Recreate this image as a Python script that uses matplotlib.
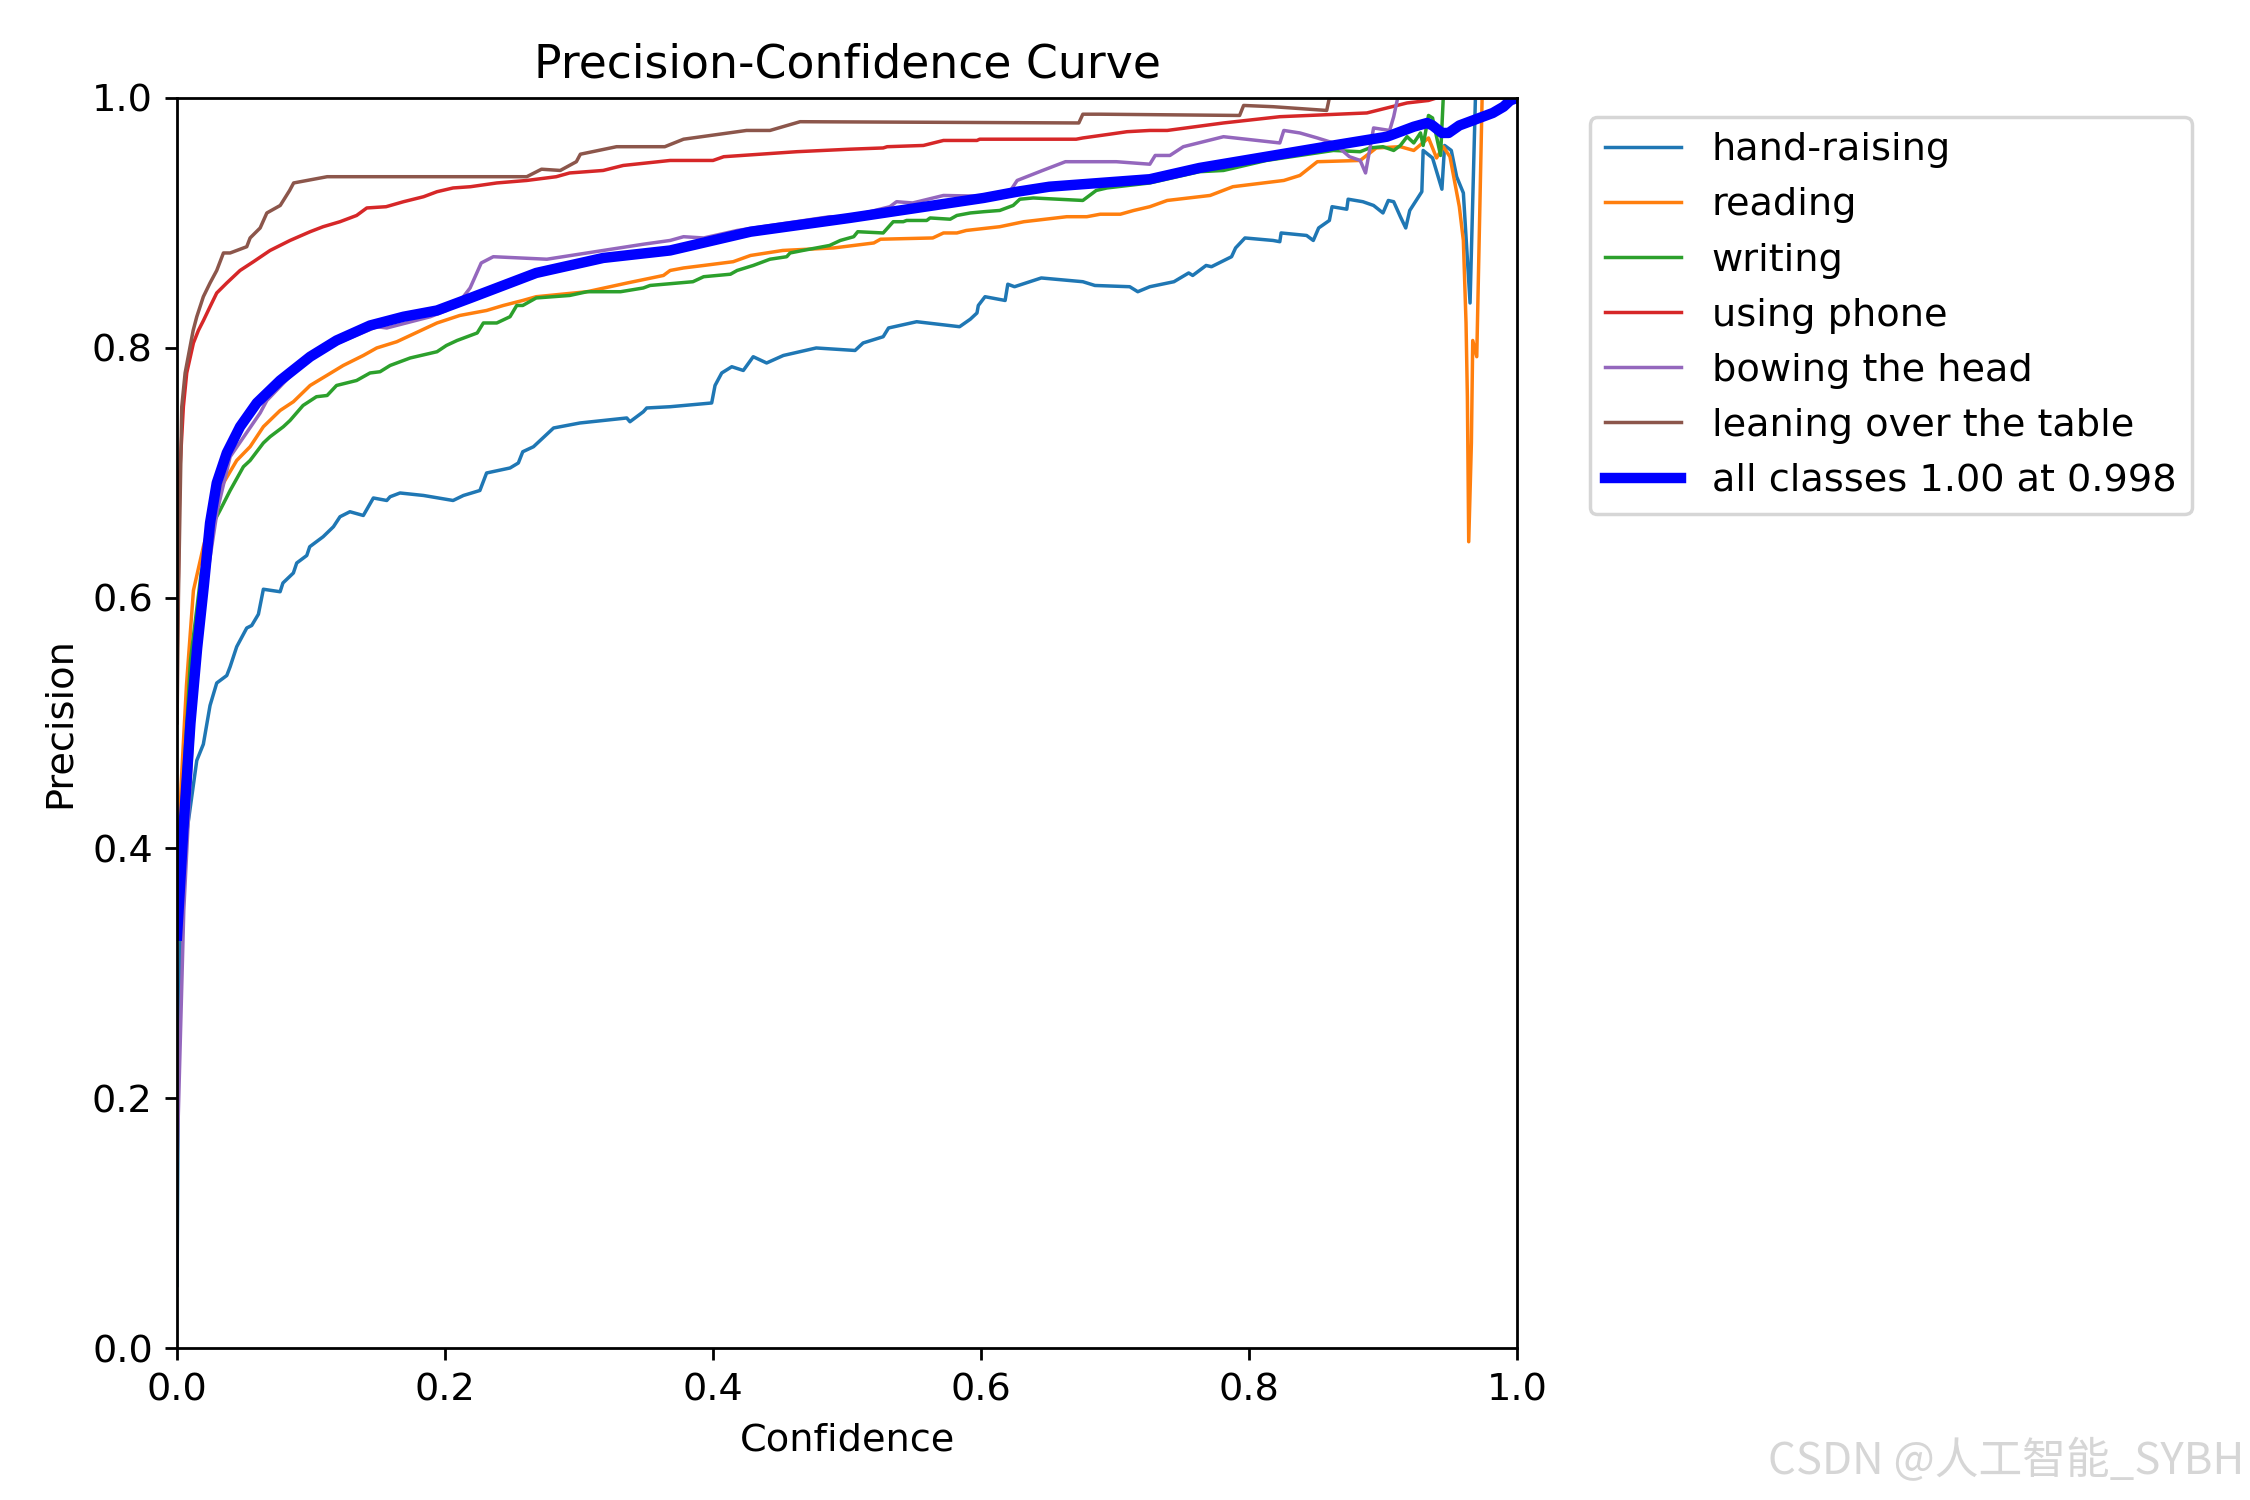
import matplotlib
matplotlib.use("Agg")
import matplotlib.pyplot as plt

plt.rcParams["font.size"] = 11

class_names = ["hand-raising", "reading", "writing", "using phone",
               "bowing the head", "leaning over the table"]
all_label = "all classes 1.00 at 0.998"

hand_x = [0.0, 0.001, 0.0026, 0.0072, 0.0147, 0.0196, 0.0246, 0.0296, 0.0371, 0.0396, 0.0445, 0.052, 0.0557,
          0.0607, 0.0644, 0.0769, 0.079, 0.0868, 0.0893, 0.0968, 0.099, 0.109, 0.1167, 0.1216, 0.129, 0.139,
          0.1465, 0.1565, 0.159, 0.1664, 0.184, 0.206, 0.2137, 0.226, 0.231, 0.2485, 0.2547, 0.258, 0.266,
          0.281, 0.3007, 0.3356, 0.338, 0.348, 0.3505, 0.368, 0.399, 0.4015, 0.4065, 0.414, 0.4226, 0.430,
          0.440, 0.4525, 0.477, 0.506, 0.512, 0.527, 0.531, 0.552, 0.584, 0.592, 0.597, 0.598, 0.603, 0.618,
          0.620, 0.625, 0.645, 0.676, 0.685, 0.711, 0.717, 0.726, 0.744, 0.755, 0.758, 0.768, 0.772, 0.787,
          0.790, 0.797, 0.818, 0.823, 0.824, 0.843, 0.848, 0.852, 0.860, 0.862, 0.873, 0.874, 0.885, 0.893,
          0.900, 0.904, 0.908, 0.913, 0.917, 0.920, 0.929, 0.930, 0.937, 0.944, 0.946, 0.951, 0.955, 0.960,
          0.965, 0.969, 1.0]
hand_y = [0.05, 0.234, 0.323, 0.412, 0.470, 0.483, 0.514, 0.532, 0.538, 0.545, 0.561, 0.576, 0.578,
          0.587, 0.607, 0.605, 0.612, 0.620, 0.628, 0.634, 0.641, 0.649, 0.657, 0.665, 0.669, 0.666,
          0.680, 0.678, 0.681, 0.684, 0.682, 0.678, 0.682, 0.686, 0.700, 0.704, 0.708, 0.717, 0.721,
          0.736, 0.740, 0.744, 0.741, 0.749, 0.752, 0.753, 0.756, 0.770, 0.780, 0.785, 0.782, 0.793,
          0.788, 0.794, 0.800, 0.798, 0.804, 0.809, 0.816, 0.821, 0.817, 0.823, 0.828, 0.834, 0.841, 0.838,
          0.851, 0.849, 0.856, 0.853, 0.850, 0.849, 0.845, 0.849, 0.853, 0.860, 0.858, 0.866, 0.865, 0.873,
          0.880, 0.888, 0.886, 0.885, 0.892, 0.890, 0.886, 0.896, 0.902, 0.913, 0.911, 0.919, 0.917, 0.914,
          0.908, 0.918, 0.917, 0.905, 0.896, 0.910, 0.925, 0.958, 0.952, 0.927, 0.962, 0.958, 0.937, 0.924,
          0.836, 1.0, 1.0]

reading_x = [0.0, 0.003, 0.007, 0.0122, 0.0196, 0.027, 0.0346, 0.0445, 0.0545, 0.0644, 0.0769, 0.0868,
             0.0993, 0.1117, 0.124, 0.139, 0.149, 0.164, 0.174, 0.194, 0.211, 0.231, 0.2435, 0.258, 0.268,
             0.306, 0.336, 0.363, 0.368, 0.378, 0.393, 0.415, 0.428, 0.452, 0.490, 0.520, 0.525, 0.564,
             0.572, 0.582, 0.589, 0.614, 0.632, 0.664, 0.679, 0.689, 0.704, 0.714, 0.726, 0.739, 0.771,
             0.788, 0.826, 0.838, 0.851, 0.883, 0.895, 0.913, 0.923, 0.934, 0.940, 0.945, 0.950, 0.957,
             0.960, 0.962, 0.963, 0.964, 0.966, 0.967, 0.970, 0.974, 1.0]
reading_y = [0.35, 0.45, 0.53, 0.606, 0.641, 0.670, 0.692, 0.710, 0.721, 0.737, 0.750, 0.757,
             0.770, 0.778, 0.786, 0.794, 0.800, 0.805, 0.810, 0.820, 0.826, 0.830, 0.834, 0.838, 0.841,
             0.845, 0.852, 0.858, 0.862, 0.864, 0.866, 0.869, 0.874, 0.878, 0.880, 0.884, 0.887, 0.888,
             0.892, 0.892, 0.894, 0.897, 0.901, 0.905, 0.905, 0.907, 0.907, 0.910, 0.913, 0.918, 0.922,
             0.929, 0.934, 0.938, 0.949, 0.950, 0.960, 0.961, 0.958, 0.968, 0.952, 0.961, 0.953, 0.913,
             0.886, 0.820, 0.761, 0.645, 0.724, 0.806, 0.793, 1.0, 1.0]

writing_x = [0.0, 0.003, 0.010, 0.018, 0.027, 0.032, 0.0396, 0.0495, 0.0545, 0.0644, 0.0694, 0.0793,
             0.0843, 0.094, 0.104, 0.112, 0.119, 0.134, 0.144, 0.1515, 0.159, 0.174, 0.194, 0.201, 0.209,
             0.224, 0.2286, 0.2386, 0.2485, 0.2535, 0.258, 0.268, 0.293, 0.306, 0.331, 0.348, 0.353, 0.385,
             0.393, 0.413, 0.418, 0.430, 0.4425, 0.455, 0.4575, 0.467, 0.487, 0.495, 0.505, 0.508, 0.527,
             0.5345, 0.542, 0.5445, 0.5595, 0.562, 0.577, 0.582, 0.592, 0.602, 0.614, 0.624, 0.629, 0.639,
             0.676, 0.686, 0.694, 0.726, 0.763, 0.781, 0.813, 0.863, 0.883, 0.890, 0.900, 0.908, 0.913,
             0.918, 0.923, 0.928, 0.930, 0.934, 0.937, 0.943, 0.945, 1.0]
writing_y = [0.35, 0.42, 0.55, 0.62, 0.660, 0.670, 0.686, 0.705, 0.710, 0.724, 0.729, 0.737,
             0.742, 0.754, 0.761, 0.762, 0.770, 0.774, 0.780, 0.781, 0.786, 0.792, 0.797, 0.802, 0.806,
             0.812, 0.820, 0.820, 0.825, 0.834, 0.834, 0.840, 0.842, 0.845, 0.845, 0.848, 0.850, 0.853,
             0.857, 0.859, 0.862, 0.866, 0.871, 0.873, 0.876, 0.878, 0.882, 0.886, 0.889, 0.893, 0.892,
             0.901, 0.901, 0.902, 0.902, 0.904, 0.903, 0.906, 0.908, 0.909, 0.910, 0.914, 0.919, 0.920,
             0.918, 0.926, 0.928, 0.932, 0.941, 0.942, 0.950, 0.958, 0.957, 0.960, 0.961, 0.958, 0.962,
             0.969, 0.964, 0.972, 0.962, 0.986, 0.984, 0.954, 1.0, 1.0]

phone_x = [0.0, 0.001, 0.002, 0.0047, 0.0072, 0.0122, 0.0159, 0.0197, 0.0246, 0.0296, 0.0371, 0.047,
           0.057, 0.0694, 0.0843, 0.0993, 0.109, 0.1216, 0.134, 0.1416, 0.156, 0.169, 0.184, 0.194, 0.206,
           0.219, 0.2386, 0.261, 0.283, 0.293, 0.318, 0.333, 0.368, 0.400, 0.408, 0.4625, 0.502, 0.527,
           0.530, 0.557, 0.572, 0.597, 0.599, 0.671, 0.676, 0.696, 0.709, 0.726, 0.739, 0.781, 0.823,
           0.888, 0.918, 0.934, 0.94, 1.0]
phone_y = [0.55, 0.62, 0.70, 0.753, 0.780, 0.804, 0.814, 0.822, 0.833, 0.844, 0.852, 0.862,
           0.869, 0.878, 0.886, 0.893, 0.897, 0.901, 0.906, 0.912, 0.913, 0.917, 0.921, 0.925, 0.928,
           0.929, 0.932, 0.934, 0.937, 0.940, 0.942, 0.946, 0.950, 0.950, 0.953, 0.957, 0.959, 0.960,
           0.961, 0.962, 0.966, 0.966, 0.967, 0.967, 0.968, 0.971, 0.973, 0.974, 0.974, 0.980, 0.985,
           0.988, 0.996, 0.998, 1.0, 1.0]

bowing_x = [0.0, 0.005, 0.012, 0.020, 0.030, 0.0396, 0.062, 0.067, 0.100, 0.149, 0.1565, 0.189, 0.201,
            0.2137, 0.2187, 0.227, 0.236, 0.276, 0.318, 0.348, 0.368, 0.378, 0.393, 0.418, 0.487, 0.502,
            0.532, 0.537, 0.549, 0.572, 0.619, 0.627, 0.646, 0.663, 0.701, 0.726, 0.730, 0.741, 0.751,
            0.781, 0.823, 0.826, 0.838, 0.851, 0.863, 0.875, 0.883, 0.887, 0.893, 0.905, 0.908, 0.911, 1.0]
bowing_y = [0.15, 0.35, 0.50, 0.60, 0.67, 0.713, 0.748, 0.758, 0.795, 0.817, 0.816, 0.825, 0.830,
            0.841, 0.848, 0.868, 0.873, 0.871, 0.878, 0.883, 0.886, 0.889, 0.888, 0.894, 0.905, 0.905,
            0.913, 0.917, 0.916, 0.922, 0.921, 0.934, 0.942, 0.949, 0.949, 0.947, 0.954, 0.954, 0.961,
            0.969, 0.964, 0.974, 0.972, 0.968, 0.964, 0.953, 0.950, 0.940, 0.976, 0.974, 0.985, 1.0, 1.0]

leaning_x = [0.0, 0.001, 0.0035, 0.006, 0.0097, 0.012, 0.0147, 0.0196, 0.0246, 0.0296, 0.0346, 0.0396,
             0.052, 0.0545, 0.062, 0.067, 0.077, 0.084, 0.087, 0.112, 0.261, 0.272, 0.286, 0.298, 0.301,
             0.328, 0.364, 0.378, 0.425, 0.4425, 0.465, 0.673, 0.676, 0.689, 0.793, 0.796, 0.818, 0.858,
             0.860, 1.0]
leaning_y = [0.50, 0.60, 0.753, 0.780, 0.801, 0.814, 0.825, 0.841, 0.852, 0.862, 0.876, 0.876,
             0.881, 0.888, 0.896, 0.908, 0.914, 0.926, 0.932, 0.937, 0.937, 0.943, 0.942, 0.949, 0.955,
             0.961, 0.961, 0.967, 0.974, 0.974, 0.981, 0.980, 0.987, 0.987, 0.986, 0.994, 0.993, 0.990,
             1.0, 1.0]

all_x = [0.0, 0.005, 0.010, 0.015, 0.020, 0.0246, 0.0296, 0.0371, 0.047, 0.0595, 0.0769, 0.0993, 0.119,
         0.144, 0.169, 0.194, 0.219, 0.2435, 0.268, 0.293, 0.318, 0.368, 0.428, 0.502, 0.577, 0.602,
         0.627, 0.651, 0.726, 0.763, 0.813, 0.863, 0.903, 0.923, 0.933, 0.937, 0.944, 0.949, 0.957,
         0.982, 0.990, 0.995, 1.0]
all_y = [0.33, 0.42, 0.50, 0.56, 0.61, 0.660, 0.692, 0.716, 0.737, 0.756, 0.774, 0.793, 0.806,
         0.818, 0.825, 0.830, 0.840, 0.850, 0.860, 0.866, 0.872, 0.878, 0.893, 0.904, 0.916, 0.920,
         0.925, 0.929, 0.935, 0.944, 0.953, 0.962, 0.969, 0.977, 0.980, 0.978, 0.972, 0.972, 0.978,
         0.988, 0.993, 0.998, 1.0]

series_x = [hand_x, reading_x, writing_x, phone_x, bowing_x, leaning_x]
series_y = [hand_y, reading_y, writing_y, phone_y, bowing_y, leaning_y]

fig = plt.figure(figsize=(9, 6), dpi=250)
ax = fig.add_axes([0.0787, 0.1013, 0.5955, 0.8334])
for xs, ys, name in zip(series_x, series_y, class_names):
    ax.plot(xs, ys, linewidth=1, label=name)
ax.plot(all_x, all_y, linewidth=3, color="blue", label=all_label)
ax.set_xlabel("Confidence")
ax.set_ylabel("Precision")
ax.set_xlim(0, 1)
ax.set_ylim(0, 1)
ax.legend(bbox_to_anchor=(1.04, 1), loc="upper left")
ax.set_title("Precision-Confidence Curve")

fig.text(0.9975, 0.025, "CSDN @人工智能_SYBH", ha="right", va="center", fontsize=12.6,
         color="#d6d6d6", family=["Noto Sans CJK SC", "DejaVu Sans"])

fig.savefig("out.png", dpi=250)
